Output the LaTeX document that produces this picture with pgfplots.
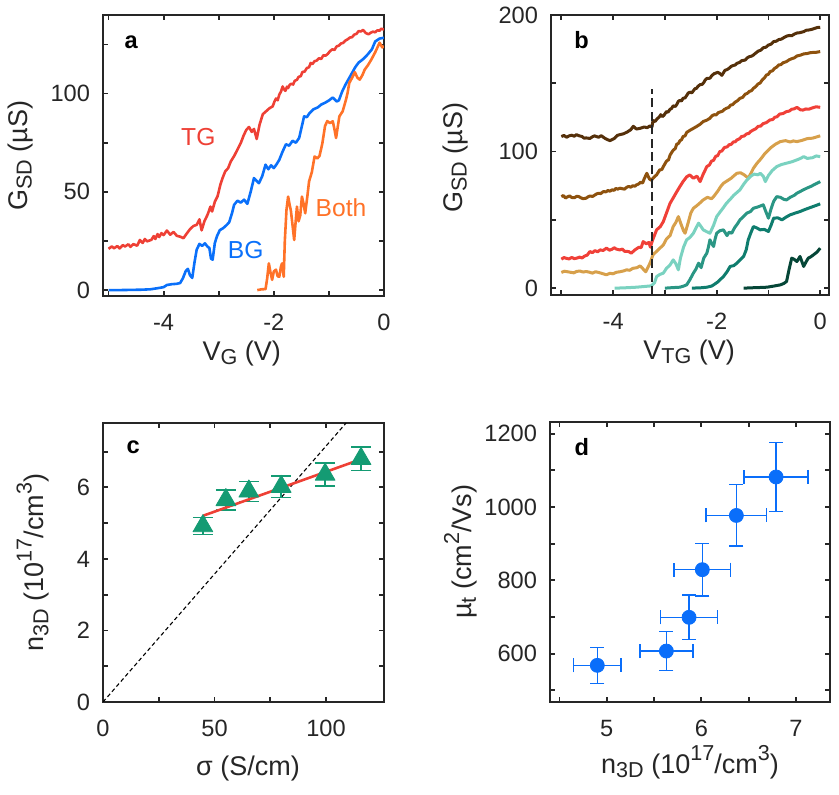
\documentclass[border=0pt]{standalone}
\usepackage{pgfplots}
\pgfplotsset{compat=1.18}
\usepackage{fontspec}
\setmainfont{Liberation Sans}
\newcommand\fs{\fontsize{11.8}{14}\selectfont}
\newcommand\ls{\fontsize{13.5}{16}\selectfont}
\newcommand\ins{\fontsize{12.3}{14}\selectfont}
\newcommand\lsub[1]{\raisebox{-0.32ex}{\fontsize{10.8}{12}\selectfont #1}}
\newcommand\lsup[1]{\raisebox{0.85ex}{\fontsize{10.8}{12}\selectfont #1}}
\definecolor{axc}{RGB}{38,38,38}
\definecolor{tgred}{RGB}{238,64,53}
\definecolor{bgblue}{RGB}{10,112,250}
\definecolor{bothor}{RGB}{255,114,40}
\definecolor{cA}{RGB}{85,48,10}
\definecolor{cB}{RGB}{142,82,14}
\definecolor{cC}{RGB}{240,64,56}
\definecolor{cD}{RGB}{215,160,75}
\definecolor{cE}{RGB}{122,210,192}
\definecolor{cF}{RGB}{42,150,132}
\definecolor{cG}{RGB}{15,125,110}
\definecolor{cH}{RGB}{5,70,55}
\definecolor{tri}{RGB}{20,155,115}
\definecolor{dblue}{RGB}{10,110,250}
\pgfplotsset{
  mystyle/.style={
    scale only axis,
    axis line style={line width=1.1pt, color=axc},
    every tick/.style={line width=0.9pt, color=axc},
    major tick length=2.6pt, minor tick length=2.6pt,
    tick align=inside, tick pos=both,
    xticklabel pos=lower, yticklabel pos=left,
    tick label style={font=\fs, color=axc},
    xticklabel style={yshift=-5.5pt},
    yticklabel style={xshift=-3pt},
    label style={font=\ls, color=axc},
    xlabel style={anchor=base},
    ylabel style={anchor=center, rotate=0},
    /pgf/number format/assume math mode=true,
    /pgf/number format/1000 sep={},
    clip=true,
  },
  every axis plot/.append style={line join=round},
}
\begin{document}
\begin{tikzpicture}
\useasboundingbox (0,0) rectangle (419.5pt,397.5pt);
% ---------------- panel a
\begin{axis}[mystyle, at={(51.5pt,249.5pt)}, anchor=south west,
  width=140.5pt, height=140.5pt,
  xmin=-5.1, xmax=0, ymin=-3, ymax=140,
  xtick={-4,-2,0}, minor xtick={-5,-3,-1},
  ytick={0,50,100}, minor ytick={25,75,125},
  xlabel={V\lsub{G} (V)}, ylabel={G\lsub{SD} (µS)},
  xlabel style={at={(axis description cs:0.494,-0.228)}},
  ylabel style={at={(axis description cs:-0.295,0.5)}},
]
\addplot[tgred, line width=1.3pt] coordinates {
(-5.00,21.0)(-4.94,22.2)(-4.90,21.3)(-4.84,22.4)(-4.80,21.2)(-4.74,22.9)(-4.70,22.2)(-4.64,23.3)(-4.60,22.0)(-4.55,23.4)(-4.48,22.6)(-4.43,25.5)(-4.38,24.0)(-4.34,26.0)(-4.30,24.8)
(-4.22,25.6)(-4.18,27.5)(-4.15,26.0)(-4.11,28.5)(-4.08,27.0)(-4.04,29.0)(-4.00,28.0)(-3.94,30.3)(-3.88,28.2)(-3.82,29.6)(-3.76,27.6)(-3.70,27.2)(-3.64,26.4)
(-3.58,28.8)(-3.52,31.0)(-3.46,32.6)(-3.40,33.2)(-3.35,36.0)(-3.31,30.4)(-3.26,35.0)(-3.20,38.5)(-3.15,42.5)(-3.12,40.0)
(-3.07,45.0)(-3.02,47.8)(-2.97,53.6)(-2.93,57.0)(-2.88,60.5)(-2.83,62.0)(-2.78,65.5)(-2.72,68.2)(-2.66,71.5)(-2.60,74.8)
(-2.55,78.5)(-2.50,81.5)(-2.45,83.0)(-2.40,80.5)(-2.36,82.0)(-2.31,76.9)(-2.26,84.0)(-2.20,89.5)(-2.14,91.0)(-2.08,92.5)
(-2.02,93.5)(-1.99,95.8)(-1.96,97.5)(-1.93,96.6)(-1.90,99.5)(-1.87,101.0)(-1.84,103.6)(-1.81,102.0)(-1.79,101.4)(-1.76,103.5)
(-1.74,102.8)(-1.71,104.5)(-1.68,105.0)(-1.65,104.6)(-1.62,106.5)(-1.58,107.0)(-1.55,108.5)(-1.51,108.9)(-1.48,111.0)(-1.44,111.2)
(-1.40,113.0)(-1.36,113.4)(-1.33,115.6)(-1.30,115.0)(-1.26,116.5)(-1.22,116.8)(-1.18,118.0)(-1.14,117.6)(-1.10,119.5)(-1.06,119.3)
(-1.02,120.2)(-0.98,121.6)(-0.94,122.5)(-0.90,122.2)(-0.86,124.0)(-0.82,124.4)(-0.78,125.5)(-0.74,125.8)(-0.70,127.0)(-0.66,127.6)
(-0.62,128.5)(-0.58,128.7)(-0.54,130.0)(-0.50,130.4)(-0.46,131.8)(-0.42,131.6)(-0.38,132.4)(-0.33,130.8)(-0.28,130.2)(-0.24,131.0)
(-0.20,131.5)(-0.16,131.2)(-0.12,132.2)(-0.08,132.0)(-0.05,133.0)(0.00,132.6)};
\addplot[bgblue, line width=1.3pt] coordinates {
(-5.00,0.0)(-4.80,0.0)(-4.60,0.1)(-4.40,0.2)(-4.24,0.4)(-4.10,1.0)(-4.00,1.5)(-3.94,2.6)(-3.85,3.0)(-3.76,3.2)
(-3.70,3.6)(-3.65,6.0)(-3.60,9.6)(-3.56,10.8)(-3.52,7.5)(-3.48,6.2)(-3.44,14.0)(-3.40,20.5)(-3.35,23.5)(-3.30,22.5)
(-3.25,23.8)(-3.20,22.0)(-3.17,21.5)(-3.14,16.0)(-3.11,15.5)(-3.07,24.0)(-3.03,27.5)(-2.98,30.5)(-2.92,31.5)(-2.86,33.0)
(-2.81,34.5)(-2.76,39.0)(-2.72,43.4)(-2.66,45.5)(-2.60,44.5)(-2.54,46.0)(-2.48,43.9)(-2.42,50.0)(-2.36,57.0)(-2.31,55.5)
(-2.27,54.4)(-2.21,58.0)(-2.15,63.8)(-2.10,61.5)(-2.05,63.5)(-2.00,62.1)(-1.95,64.0)(-1.90,66.3)(-1.84,70.5)(-1.78,74.2)
(-1.72,73.5)(-1.66,76.0)(-1.60,75.0)(-1.54,77.4)(-1.49,83.5)(-1.45,88.4)(-1.40,88.0)(-1.35,90.1)(-1.28,92.0)(-1.20,93.0)
(-1.14,94.4)(-1.06,95.5)(-1.00,96.5)(-0.93,98.0)(-0.86,96.0)(-0.82,96.5)(-0.76,101.0)(-0.70,104.5)(-0.64,107.5)(-0.58,110.5)
(-0.52,113.5)(-0.46,115.8)(-0.38,117.5)(-0.30,119.8)(-0.22,122.5)(-0.16,126.5)(-0.08,128.0)(0.00,128.4)};
\addplot[bothor, line width=1.3pt] coordinates {
(-2.30,0.0)(-2.22,0.4)(-2.15,0.5)(-2.12,6.0)(-2.09,13.6)(-2.06,9.0)(-2.03,5.2)(-2.00,9.5)(-1.96,10.4)(-1.93,7.0)
(-1.90,6.8)(-1.87,12.0)(-1.85,13.6)(-1.82,6.8)(-1.80,25.0)(-1.77,40.8)(-1.74,47.6)(-1.71,43.0)(-1.69,40.5)(-1.66,33.0)
(-1.63,25.5)(-1.60,36.0)(-1.58,42.5)(-1.55,35.0)(-1.52,38.0)(-1.49,47.6)(-1.46,44.0)(-1.43,39.1)(-1.39,48.0)(-1.36,55.3)
(-1.31,60.0)(-1.26,68.0)(-1.21,67.0)(-1.17,68.3)(-1.12,74.5)(-1.07,83.5)(-1.03,86.0)(-0.98,85.0)(-0.93,85.9)(-0.90,82.0)
(-0.87,77.4)(-0.84,83.0)(-0.81,88.4)(-0.75,91.0)(-0.69,96.9)(-0.66,100.5)(-0.63,105.4)(-0.58,108.0)(-0.53,110.9)(-0.48,108.0)
(-0.44,107.1)(-0.39,109.5)(-0.35,112.2)(-0.29,114.5)(-0.23,117.3)(-0.16,121.0)(-0.08,125.9)(-0.03,123.5)(0.00,124.1)};
\node[font=\ins, text=tgred] at (axis cs:-3.37,78) {TG};
\node[font=\ins, text=bgblue] at (axis cs:-2.51,20.4) {BG};
\node[font=\ins, text=bothor] at (axis cs:-0.78,41.8) {Both};
\node[font=\fs\bfseries, text=black] at (rel axis cs:0.10,0.904) {a};
\end{axis}
% ---------------- panel b
\begin{axis}[mystyle, at={(275.5pt,250pt)}, anchor=south west,
  width=139pt, height=140pt,
  xmin=-5.2, xmax=0.17, ymin=-5, ymax=200,
  xtick={-4,-2,0}, minor xtick={-5,-3,-1},
  ytick={0,100,200}, minor ytick={50,150},
  xlabel={V\lsub{TG} (V)}, ylabel={G\lsub{SD} (µS)},
  xlabel style={at={(axis description cs:0.497,-0.229)}},
  ylabel style={at={(axis description cs:-0.345,0.49)}},
]
\addplot[cA, line width=1.5pt] coordinates {
(-5.00,111.0)(-4.95,111.8)(-4.90,110.5)(-4.85,111.5)(-4.80,112.0)(-4.75,111.2)(-4.71,112.4)(-4.66,111.6)(-4.60,111.0)(-4.56,109.8)(-4.52,110.0)(-4.45,109.6)(-4.40,110.8)(-4.36,111.5)(-4.28,110.5)(-4.23,111.6)
(-4.15,109.5)(-4.10,108.6)(-4.06,108.0)(-3.98,109.5)(-3.92,111.8)(-3.87,112.4)(-3.80,113.0)(-3.72,114.5)(-3.66,116.0)(-3.61,118.5)(-3.55,116.5)
(-3.48,117.0)(-3.40,118.0)(-3.34,117.5)(-3.29,118.8)(-3.25,118.0)(-3.23,122.7)(-3.19,122.0)(-3.15,124.0)(-3.11,125.3)(-3.08,127.0)(-3.05,125.6)(-3.02,126.5)(-2.97,129.3)
(-2.94,128.8)(-2.90,131.0)(-2.87,131.6)(-2.84,133.5)(-2.80,133.0)(-2.77,134.5)(-2.74,136.8)(-2.71,137.5)(-2.68,137.0)(-2.65,139.0)(-2.61,139.3)(-2.58,141.0)(-2.55,142.8)(-2.52,143.5)(-2.48,143.0)(-2.45,144.5)(-2.42,146.0)(-2.39,146.3)(-2.36,147.8)(-2.32,149.0)
(-2.28,149.2)(-2.25,150.5)(-2.22,152.5)(-2.19,153.5)(-2.13,153.7)(-2.09,155.8)(-2.05,157.0)(-1.98,158.0)(-1.94,157.2)(-1.90,155.8)(-1.84,159.5)(-1.80,160.0)(-1.76,161.0)(-1.72,162.4)(-1.68,163.0)(-1.64,163.4)(-1.61,164.6)
(-1.56,165.2)(-1.52,166.5)(-1.45,167.0)(-1.41,168.6)(-1.37,169.5)(-1.33,169.8)(-1.29,170.7)(-1.25,172.0)(-1.20,173.5)(-1.15,174.2)(-1.10,176.0)(-1.05,176.4)(-1.00,178.0)(-0.95,178.6)(-0.90,180.5)(-0.85,180.8)(-0.80,182.0)(-0.75,182.3)(-0.70,183.5)
(-0.65,184.5)(-0.60,185.0)(-0.55,184.8)(-0.50,186.0)(-0.45,186.8)(-0.40,187.0)(-0.32,187.8)(-0.27,188.8)(-0.22,189.0)(-0.17,189.4)(-0.12,190.0)(-0.06,190.8)(0.00,191.0)};
\addplot[cB, line width=1.5pt] coordinates {
(-5.00,67.0)(-4.96,67.8)(-4.92,66.0)(-4.88,66.9)(-4.84,67.5)(-4.80,66.4)(-4.75,66.2)(-4.70,67.3)(-4.66,67.0)(-4.62,66.1)(-4.58,65.5)(-4.52,65.9)(-4.48,67.0)(-4.44,67.5)(-4.40,67.1)(-4.36,68.0)(-4.32,69.0)(-4.28,69.5)
(-4.24,69.2)(-4.19,70.7)(-4.14,70.5)(-4.10,71.5)(-4.06,71.0)(-4.02,72.0)(-3.98,71.6)(-3.95,73.0)(-3.91,72.5)(-3.87,73.2)(-3.82,72.8)(-3.78,72.5)(-3.74,73.8)(-3.70,74.5)(-3.66,73.9)(-3.62,75.0)(-3.58,74.6)(-3.55,75.6)(-3.51,76.2)(-3.47,77.5)
(-3.43,77.0)(-3.40,80.0)(-3.35,84.1)(-3.30,80.0)(-3.26,79.0)(-3.23,80.5)(-3.16,83.0)(-3.10,86.6)(-3.06,86.8)(-3.03,89.0)(-2.97,93.0)(-2.93,94.0)(-2.90,97.5)
(-2.84,101.0)(-2.80,102.2)(-2.77,105.5)(-2.74,105.8)(-2.71,108.0)(-2.68,108.6)(-2.65,111.0)(-2.61,111.5)(-2.58,114.0)(-2.52,115.5)(-2.45,117.0)(-2.39,118.3)(-2.32,120.0)(-2.26,122.0)
(-2.19,123.0)(-2.13,124.4)(-2.09,126.2)(-2.05,127.0)(-2.01,126.8)(-1.97,128.5)(-1.89,129.5)(-1.85,130.9)(-1.81,131.7)(-1.77,132.3)(-1.73,134.0)(-1.69,134.4)(-1.65,136.0)(-1.60,137.2)(-1.55,139.0)(-1.50,139.6)(-1.45,142.0)
(-1.41,142.6)(-1.37,144.0)(-1.33,144.5)(-1.29,146.3)(-1.25,147.4)(-1.20,149.5)(-1.16,150.2)(-1.12,152.5)(-1.08,153.8)(-1.04,156.0)(-1.00,156.6)(-0.97,158.5)(-0.92,159.2)(-0.88,161.0)(-0.84,161.8)(-0.80,163.5)(-0.76,163.6)(-0.72,165.0)(-0.65,165.9)
(-0.60,167.2)(-0.55,168.0)(-0.50,168.6)(-0.45,170.0)(-0.38,170.6)(-0.32,171.5)(-0.25,171.8)(-0.18,172.5)(-0.09,172.6)(0.00,173.2)};
\addplot[cC, line width=1.5pt] coordinates {
(-5.00,21.2)(-4.95,22.4)(-4.90,21.8)(-4.85,21.4)(-4.80,22.5)(-4.75,21.6)(-4.70,22.0)(-4.65,22.7)(-4.60,22.1)(-4.55,23.5)(-4.50,24.2)(-4.45,26.8)(-4.40,26.0)(-4.35,27.5)(-4.30,26.6)(-4.25,28.0)(-4.19,27.6)(-4.13,29.3)
(-4.07,27.8)(-4.02,28.5)(-3.98,29.6)(-3.94,28.6)(-3.87,28.0)(-3.82,28.6)(-3.78,27.0)(-3.70,26.8)(-3.65,25.6)(-3.58,28.0)(-3.50,30.0)(-3.46,29.6)(-3.42,34.1)(-3.36,32.5)
(-3.31,33.5)(-3.28,30.0)(-3.24,35.0)(-3.16,42.7)(-3.09,45.0)(-3.03,48.8)(-2.97,55.0)(-2.90,62.2)(-2.84,66.0)(-2.78,70.0)
(-2.71,74.4)(-2.65,78.0)(-2.58,81.5)(-2.52,82.9)(-2.45,80.5)(-2.38,82.0)(-2.32,78.0)(-2.26,83.5)(-2.19,89.0)(-2.14,90.2)(-2.10,93.0)
(-2.06,93.6)(-2.02,96.5)(-1.98,97.0)(-1.94,100.0)(-1.90,100.4)(-1.85,103.0)(-1.80,103.4)(-1.76,105.0)(-1.72,105.2)(-1.68,107.0)(-1.64,107.2)(-1.61,108.5)(-1.56,109.3)(-1.52,111.0)(-1.47,111.4)(-1.42,113.0)(-1.38,113.2)(-1.35,114.5)(-1.29,115.9)
(-1.25,116.6)(-1.20,118.5)(-1.15,118.6)(-1.10,120.5)(-1.04,121.2)(-0.97,123.2)(-0.92,123.4)(-0.88,125.0)(-0.83,125.6)(-0.78,127.5)(-0.72,127.8)(-0.65,129.3)(-0.60,129.6)(-0.55,131.0)(-0.50,131.3)(-0.45,132.4)(-0.38,130.5)(-0.33,130.4)(-0.28,131.2)
(-0.22,131.0)(-0.15,132.0)(-0.08,132.8)(0.00,132.4)};
\addplot[cD, line width=1.5pt] coordinates {
(-5.00,11.5)(-4.94,12.4)(-4.88,12.0)(-4.82,11.6)(-4.76,11.2)(-4.70,12.3)(-4.64,12.5)(-4.58,11.8)(-4.52,12.2)(-4.46,11.7)(-4.40,11.0)(-4.34,12.0)(-4.28,11.5)(-4.20,10.6)(-4.13,9.8)(-4.06,10.9)(-4.00,10.5)(-3.94,11.6)(-3.87,12.0)
(-3.80,12.6)(-3.74,13.4)(-3.68,13.1)(-3.62,14.5)(-3.54,15.0)(-3.48,16.3)(-3.42,14.0)(-3.37,12.0)(-3.33,15.0)(-3.28,19.0)(-3.23,24.4)(-3.16,27.0)
(-3.09,29.5)(-3.03,31.7)(-2.97,36.0)(-2.90,38.5)(-2.84,45.1)(-2.79,48.0)(-2.74,52.4)(-2.69,47.0)(-2.64,42.0)(-2.61,40.2)
(-2.55,48.0)(-2.50,55.0)(-2.45,58.5)(-2.38,60.5)(-2.32,62.5)(-2.26,64.6)(-2.18,66.5)(-2.10,65.5)(-2.06,67.0)(-1.98,71.0)
(-1.92,74.5)(-1.87,76.8)(-1.80,78.5)(-1.72,80.5)(-1.66,82.5)(-1.61,84.1)(-1.54,84.5)(-1.47,83.0)(-1.42,81.5)(-1.39,80.5)
(-1.34,84.0)(-1.29,87.8)(-1.22,91.5)(-1.15,94.5)(-1.08,98.0)(-1.03,100.0)(-0.95,103.0)(-0.86,105.5)(-0.77,107.3)(-0.67,108.0)
(-0.58,107.0)(-0.52,107.8)(-0.45,107.3)(-0.35,108.2)(-0.25,109.5)(-0.15,109.8)(-0.08,110.6)(0.00,111.5)};
\addplot[cE, line width=1.5pt] coordinates {
(-3.97,0.0)(-3.80,0.2)(-3.65,0.5)(-3.55,0.7)(-3.40,1.2)(-3.26,1.7)(-3.20,4.0)(-3.16,8.5)(-3.10,10.0)(-3.03,11.0)
(-2.97,14.5)(-2.90,17.0)(-2.84,20.7)(-2.79,18.0)(-2.74,13.4)(-2.70,22.0)(-2.64,30.0)(-2.58,35.4)(-2.52,37.0)(-2.45,40.2)
(-2.40,44.0)(-2.35,47.6)(-2.30,45.0)(-2.26,42.7)(-2.20,41.5)(-2.13,40.2)(-2.06,46.0)(-2.00,52.4)(-1.93,56.0)(-1.87,59.0)
(-1.81,62.2)(-1.74,65.0)(-1.67,68.0)(-1.61,70.0)(-1.55,72.0)(-1.48,76.0)(-1.42,79.0)(-1.35,81.7)(-1.28,83.5)(-1.20,83.0)
(-1.16,84.1)(-1.10,82.0)(-1.06,78.0)(-1.00,82.5)(-0.93,86.0)(-0.84,89.0)(-0.75,90.5)(-0.65,91.5)(-0.55,92.5)(-0.45,93.9)
(-0.38,95.0)(-0.32,96.3)(-0.25,95.0)(-0.15,95.5)(-0.08,96.8)(0.00,96.3)};
\addplot[cF, line width=1.5pt] coordinates {
(-3.00,0.0)(-2.85,0.4)(-2.71,0.7)(-2.64,1.5)(-2.58,2.4)(-2.52,6.0)(-2.45,11.0)(-2.40,14.0)(-2.35,18.3)(-2.30,15.0)
(-2.25,22.0)(-2.19,25.6)(-2.16,30.0)(-2.13,35.4)(-2.10,33.0)(-2.06,30.5)(-2.03,36.0)(-2.00,40.2)(-1.94,42.0)(-1.87,42.7)
(-1.80,38.5)(-1.76,41.0)(-1.71,40.2)(-1.65,44.5)(-1.60,47.0)(-1.55,50.0)(-1.48,52.5)(-1.42,54.9)(-1.35,56.0)(-1.29,58.5)
(-1.20,59.5)(-1.10,61.0)(-1.05,56.0)(-1.00,51.2)(-0.95,58.0)(-0.90,63.5)(-0.84,67.0)(-0.77,66.5)(-0.70,65.0)(-0.65,64.6)
(-0.58,66.5)(-0.50,68.0)(-0.45,69.5)(-0.35,71.5)(-0.26,73.2)(-0.18,74.5)(-0.08,76.5)(0.00,78.0)};
\addplot[cG, line width=1.5pt] coordinates {
(-2.48,0.0)(-2.30,0.3)(-2.19,0.7)(-2.10,1.5)(-2.06,2.4)(-1.98,4.5)(-1.87,8.5)(-1.80,12.0)(-1.74,15.9)(-1.67,16.5)
(-1.61,18.3)(-1.54,21.0)(-1.48,23.2)(-1.43,28.0)(-1.39,35.4)(-1.34,40.5)(-1.29,45.1)(-1.22,44.0)(-1.16,42.7)(-1.08,43.0)
(-1.00,41.5)(-0.95,46.0)(-0.90,51.2)(-0.82,51.5)(-0.74,50.0)(-0.66,52.0)(-0.58,53.7)(-0.48,55.0)(-0.39,56.1)(-0.30,57.5)
(-0.23,58.5)(-0.12,60.0)(0.00,61.7)};
\addplot[cH, line width=1.5pt] coordinates {
(-1.48,0.0)(-1.30,0.3)(-1.15,0.5)(-1.03,0.7)(-0.90,1.5)(-0.77,2.4)(-0.70,3.5)(-0.65,4.9)(-0.60,14.0)(-0.55,22.0)
(-0.50,21.0)(-0.45,19.5)(-0.39,23.2)(-0.35,19.0)(-0.32,15.9)(-0.27,19.5)(-0.23,22.0)(-0.18,23.0)(-0.13,24.4)(-0.06,26.5)(0.00,29.3)};
\addplot[black!85, line width=0.85pt, dash pattern=on 4.5pt off 2.2pt] coordinates {(-3.25,-5) (-3.25,146)};
\node[font=\fs\bfseries, text=black] at (rel axis cs:0.11,0.91) {b};
\end{axis}
% ---------------- panel c
\begin{axis}[mystyle, at={(51.5pt,46.5pt)}, anchor=south west,
  width=140.5pt, height=139.5pt,
  xmin=0, xmax=126, ymin=0, ymax=7.8,
  xtick={0,50,100}, minor xtick={25,75},
  ytick={0,2,4,6}, minor ytick={1,3,5,7},
  xlabel={σ (S/cm)}, ylabel={n\lsub{3D} (10\lsup{17}/cm\lsup{3})},
  xlabel style={at={(axis description cs:0.516,-0.262)}},
  ylabel style={at={(axis description cs:-0.249,0.5)}},
]
\addplot[black, line width=0.55pt, dash pattern=on 2pt off 1.4pt] coordinates {(0,0) (109,7.8)};
\addplot[tri, only marks, mark=triangle*, mark size=5.7pt,
  mark options={fill=tri, draw=tri},
  error bars/.cd, y dir=both, y explicit,
  error bar style={line width=0.8pt, color=tri},
  error mark options={rotate=90, mark size=5pt, line width=0.8pt, color=tri}]
  coordinates {
  (44.8,4.92) +- (0,0.24)
  (55.1,5.65) +- (0,0.28)
  (65.4,5.89) +- (0,0.28)
  (79.9,6.02) +- (0,0.30)
  (99.6,6.36) +- (0,0.32)
  (115.7,6.80) +- (0,0.33)};
\addplot[tgred, line width=1.3pt] coordinates {(45,5.21) (117.2,6.82)};
\node[font=\fs\bfseries, text=black] at (rel axis cs:0.107,0.914) {c};
\end{axis}
% ---------------- panel d
\begin{axis}[mystyle, at={(275pt,46.5pt)}, anchor=south west,
  width=140pt, height=140pt,
  xmin=4.4, xmax=7.36, ymin=468, ymax=1232,
  xtick={5,6,7}, minor xtick={4.5,5.5,6.5},
  ytick={600,800,1000,1200}, minor ytick={500,700,900,1100},
  xlabel={n\lsub{3D} (10\lsup{17}/cm\lsup{3})}, ylabel={µ\lsub{t} (cm\lsup{2}/Vs)},
  xlabel style={at={(axis description cs:0.5,-0.254)}},
  ylabel style={at={(axis description cs:-0.32,0.536)}},
]
\addplot[dblue, only marks, mark=*, mark size=3.5pt,
  mark options={fill=dblue, draw=dblue},
  error bars/.cd, x dir=both, x explicit, y dir=both, y explicit,
  error bar style={line width=0.8pt, color=dblue},
  error mark options={rotate=90, mark size=3.5pt, line width=0.8pt, color=dblue}]
  coordinates {
  (4.90,568) +- (0.25,49)
  (5.63,607) +- (0.28,53)
  (5.87,699) +- (0.30,61)
  (6.01,829) +- (0.30,72)
  (6.37,977) +- (0.32,84)
  (6.79,1082) +- (0.34,94)};
\node[font=\fs\bfseries, text=black] at (rel axis cs:0.114,0.91) {d};
\end{axis}
\end{tikzpicture}
\end{document}
